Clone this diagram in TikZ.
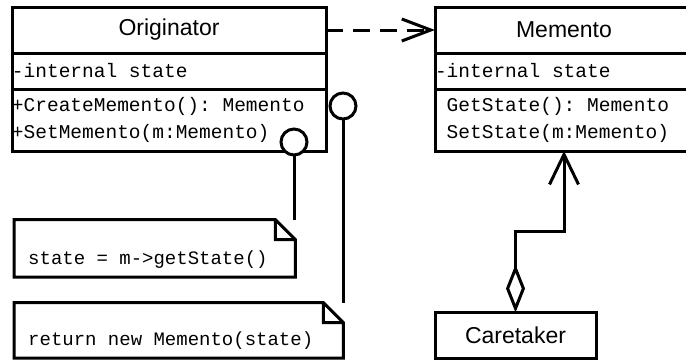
\documentclass[tikz,border=0pt]{standalone}
\usepackage{fontspec}
\setsansfont{Liberation Sans}
\setmonofont{Liberation Mono}
\usetikzlibrary{arrows.meta,positioning}

\begin{document}
\begin{tikzpicture}[x=1pt,y=-1pt]

\tikzset{uml/.style={draw, line width=3pt, outer sep=0pt},
  monotext/.style={align=left, font=\ttfamily\fontsize{#1}{27}\selectfont,
    execute at begin node={\spaceskip=0pt\xspaceskip=0pt}},
  classname/.style={uml, minimum height=46pt, font=\sffamily\fontsize{23}{27}\selectfont},
  classpart/.style={uml, monotext=19.5, inner xsep=0pt, inner ysep=0pt},
  notebox/.style={monotext=19, anchor=south west, inner xsep=14pt, inner ysep=0pt, text depth=12pt},
  lolly/.style={uml, circle, fill=white, minimum size=26pt, inner sep=0pt},
  link/.style={line width=3pt}}

\useasboundingbox (0,0) rectangle (686,360);

% Originator class
\node[classname, minimum width=314pt] (orig) at (169,30) {Originator};
\node[classpart, below=0pt of orig, text width=314pt, minimum height=36pt] (origattr) {-internal state};
\node[classpart, below=0pt of origattr, text width=314pt, minimum height=62pt] (origops)
  {+CreateMemento(): Memento\\+SetMemento(m:Memento)};

% Memento class
\node[classname, minimum width=258pt] (mem) at (564,30) {Memento};
\node[classpart, below=0pt of mem, text width=258pt, minimum height=36pt] (memattr) {-internal state};
\node[classpart, below=0pt of memattr, text width=258pt, minimum height=62pt] (memops)
  {\hphantom{+}GetState(): Memento\\\hphantom{+}SetState(m:Memento)};

\node[classname, minimum width=161pt] (care) at (515.5,335.5) {Caretaker};

% notes
\node[notebox, text width=253pt, text height=45pt] (getnote) at (14,277) {state = m->getState()};
\node[notebox, text width=301pt, text height=43pt] (retnote) at (14,358) {return new Memento(state)};
\foreach \n in {getnote,retnote}
  \draw[link] (\n.north west) -- ([xshift=-20pt]\n.north east) -- ([yshift=-20pt]\n.north east)
    -- (\n.south east) -- (\n.south west) -- cycle
    ([xshift=-20pt]\n.north east) |- ([yshift=-20pt]\n.north east);

% lollipops
\node[lolly] (setpt) at (294,142) {};
\node[lolly] (creatept) at (343,106) {};
\draw[link] (setpt) -- (setpt |- getnote.north);
\draw[link] (creatept) -- (creatept |- retnote.north);

\draw[link, dash pattern=on 17pt off 10pt, -{Straight Barb[length=29pt,width=22pt]}] (orig) -- (mem);
\draw[link, {Diamond[open,length=48pt,width=19pt]}-{Straight Barb[length=30pt,width=29pt]}]
  (care.north) -- ++(0,-81) -| (memops.south);

\end{tikzpicture}
\end{document}
